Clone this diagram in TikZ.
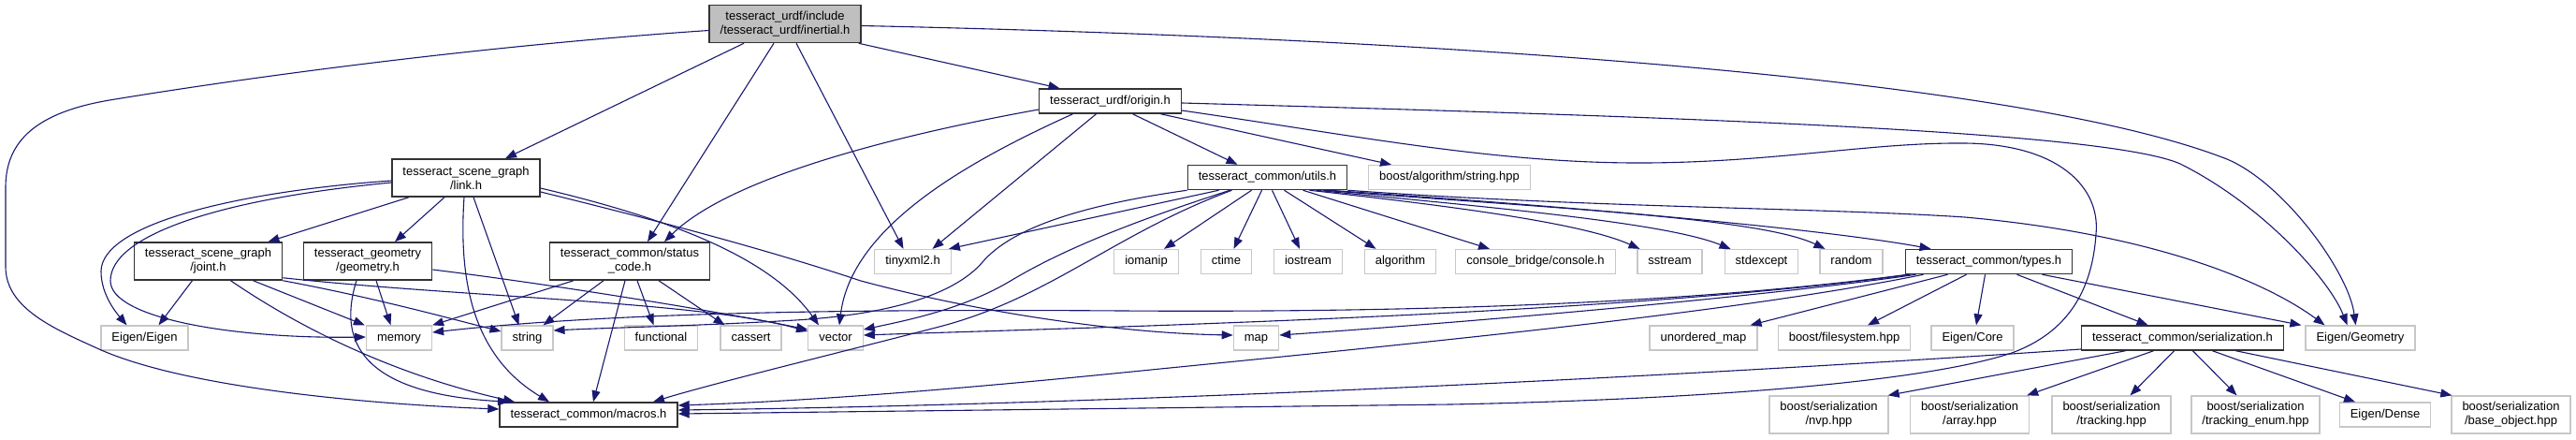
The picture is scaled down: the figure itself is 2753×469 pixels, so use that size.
\documentclass[tikz,border=0pt]{standalone}
\usepackage{fontspec}
\setmainfont{Liberation Sans}
\usetikzlibrary{arrows.meta}
\definecolor{edgeblue}{HTML}{191970}

\begin{document}
\begin{tikzpicture}[x=1pt, y=-1pt,
    basebox/.style={rectangle, inner ysep=0pt, inner xsep=11.5pt, font=\fontsize{13}{15}\selectfont},
    hdrbox/.style={basebox, draw=black!80, line width=1.5pt, fill=white, minimum height=26pt, text height=9.5pt, text depth=3pt},
    hdrtwo/.style={basebox, draw=black!80, line width=1.5pt, fill=white, align=center, minimum height=40pt},
    curbox/.style={hdrtwo, fill=black!25},
    sysbox/.style={basebox, draw=black!22, line width=1.3pt, fill=white, minimum height=26pt, text height=9.5pt, text depth=3pt},
    systwo/.style={basebox, draw=black!22, line width=1.3pt, fill=white, align=center, minimum height=40pt},
    dep/.style={-{Triangle[length=12pt, width=9pt]}, draw=edgeblue, line width=1.1pt}]

    \path[use as bounding box, fill=white] (0,0) rectangle (2753,469);

    % File whose graph this is
    \node[curbox] (inertial) at (839,25.5) {tesseract\_urdf/include\\/tesseract\_urdf/inertial.h};

    % Project headers
    \node[hdrbox] (origin) at (1186.5,108) {tesseract\_urdf/origin.h};
    \node[hdrtwo] (link) at (498,190) {tesseract\_scene\_graph\\/link.h};
    \node[hdrbox] (utils) at (1354.5,189.5) {tesseract\_common/utils.h};
    \node[hdrtwo] (joint) at (222.5,279) {tesseract\_scene\_graph\\/joint.h};
    \node[hdrtwo] (geometry) at (393,279) {tesseract\_geometry\\/geometry.h};
    \node[hdrtwo] (status) at (673,279) {tesseract\_common/status\\\_code.h};
    \node[hdrbox] (types) at (2125.5,279.5) {tesseract\_common/types.h};
    \node[hdrbox] (serialization) at (2332.5,361) {tesseract\_common/serialization.h};
    \node[hdrbox] (macros) at (629,443) {tesseract\_common/macros.h};

    % System and third party headers
    \node[sysbox] (boostalg) at (1549,189.5) {boost/algorithm/string.hpp};
    \node[sysbox] (tinyxml) at (975.5,279.5) {tinyxml2.h};
    \node[sysbox] (iomanip) at (1225,279.5) {iomanip};
    \node[sysbox] (ctime) at (1310.5,279.5) {ctime};
    \node[sysbox] (iostream) at (1398,279.5) {iostream};
    \node[sysbox] (algorithm) at (1496.5,279.5) {algorithm};
    \node[sysbox] (console) at (1641,279.5) {console\_bridge/console.h};
    \node[sysbox] (sstream) at (1784.5,279.5) {sstream};
    \node[sysbox] (stdexcept) at (1882.5,279.5) {stdexcept};
    \node[sysbox] (random) at (1978.5,279.5) {random};

    \node[sysbox] (eigen) at (154.5,361) {Eigen/Eigen};
    \node[sysbox] (memory) at (426.5,361) {memory};
    \node[sysbox] (string) at (563.5,361) {string};
    \node[sysbox] (functional) at (706.5,361) {functional};
    \node[sysbox] (cassert) at (802.5,361) {cassert};
    \node[sysbox] (vector) at (893,361) {vector};
    \node[sysbox] (map) at (1342.5,361) {map};
    \node[sysbox] (umap) at (1820.5,361) {unordered\_map};
    \node[sysbox] (filesystem) at (1971,361) {boost/filesystem.hpp};
    \node[sysbox] (eigencore) at (2108,361) {Eigen/Core};
    \node[sysbox] (eigengeom) at (2522.5,361) {Eigen/Geometry};

    \node[systwo] (nvp) at (1954.5,443) {boost/serialization\\/nvp.hpp};
    \node[systwo] (array) at (2105,443) {boost/serialization\\/array.hpp};
    \node[systwo] (tracking) at (2256.5,443) {boost/serialization\\/tracking.hpp};
    \node[systwo] (trackenum) at (2410.5,443) {boost/serialization\\/tracking\_enum.hpp};
    \node[sysbox] (eigendense) at (2549,443) {Eigen/Dense};
    \node[systwo] (baseobj) at (2683.5,443) {boost/serialization\\/base\_object.hpp};

    % inertial.h includes
    \draw[dep] ([yshift=-7pt]inertial.west) .. controls (500,50) and (250,85) .. (117,107)
        .. controls (40,120) and (6,150) .. (6,200) -- (6,285)
        .. controls (6,330) and (60,352) .. (106,373)
        .. controls (200,415) and (400,432) .. ([yshift=6pt]macros.west);
    \draw[dep] ([xshift=-44pt]inertial.south) -- ([xshift=42pt]link.north);
    \draw[dep] ([xshift=-12pt]inertial.south) -- ([xshift=19pt]status.north);
    \draw[dep] ([xshift=12pt]inertial.south) -- ([xshift=-10pt]tinyxml.north);
    \draw[dep] ([xshift=-3pt]inertial.south east) -- ([xshift=-54pt]origin.north);
    \draw[dep] ([yshift=-2pt]inertial.east) .. controls (1500,40) and (2150,80) .. (2380,170)
        .. controls (2440,195) and (2510,290) .. ([xshift=-5pt]eigengeom.north);

    % origin.h includes
    \draw[dep] ([yshift=-9pt]origin.west) .. controls (1010,135) and (790,180) .. ([xshift=37pt]status.north);
    \draw[dep] ([xshift=-15pt]origin.south) -- ([xshift=21pt]tinyxml.north);
    \draw[dep] ([xshift=-40pt]origin.south) .. controls (1040,170) and (910,240) .. ([xshift=4pt]vector.north);
    \draw[dep] ([xshift=24pt]origin.south) -- ([xshift=-32pt]utils.north);
    \draw[dep] ([xshift=54pt]origin.south) -- ([xshift=-62pt]boostalg.north);
    \draw[dep] ([yshift=-2pt]origin.east) .. controls (1800,125) and (2250,140) .. (2330,175)
        .. controls (2420,220) and (2490,300) .. ([xshift=-14pt]eigengeom.north);
    \draw[dep] ([yshift=-10pt]origin.east) .. controls (1450,145) and (1600,175) .. (1760,174)
        .. controls (1900,173) and (2000,152) .. (2100,153)
        .. controls (2200,154) and (2245,200) .. (2240,250)
        .. controls (2236,310) and (2210,355) .. (2150,377)
        .. controls (2050,410) and (1800,427) .. (1550,432)
        -- ([yshift=1pt]macros.east);

    % link.h includes
    \draw[dep] ([xshift=-61pt]link.south) -- ([xshift=64pt]joint.north);
    \draw[dep] ([xshift=-23pt]link.south) -- ([xshift=29pt]geometry.north);
    \draw[dep] ([yshift=-3pt]link.west) .. controls (250,205) and (108,240) .. (108,290)
        .. controls (108,315) and (125,335) .. ([xshift=-19pt]eigen.north);
    \draw[dep] ([yshift=-5pt]link.west) .. controls (240,212) and (118,250) .. (118,300)
        .. controls (118,340) and (250,362) .. ([yshift=1pt]memory.west);
    \draw[dep] ([xshift=8pt]link.south) -- ([xshift=-9pt]string.north);
    \draw[dep] ([xshift=-2pt]link.south) .. controls (490,300) and (505,380) .. ([xshift=-42pt]macros.north);
    \draw[dep] ([yshift=-11pt]link.east) .. controls (700,230) and (820,270) .. ([xshift=-18pt]vector.north);
    \draw[dep] ([yshift=-15pt]link.east) .. controls (720,240) and (830,270) .. (920,300)
        .. controls (1050,335) and (1200,356) .. ([yshift=3pt]map.west);

    % joint.h includes
    \draw[dep] ([xshift=-17pt]joint.south) -- ([xshift=15pt]eigen.north);
    \draw[dep] ([xshift=48pt]joint.south) -- ([xshift=-1pt]memory.north west);
    \draw[dep] (joint.south east) .. controls (400,318) and (480,340) .. ([yshift=7pt]string.west);
    \draw[dep] ([xshift=24pt]joint.south) .. controls (320,350) and (420,400) .. ([xshift=-79pt]macros.north);
    \draw[dep] ([yshift=3pt]joint.south east) .. controls (500,318) and (750,322) .. ([yshift=7pt]vector.west);

    % geometry.h includes
    \draw[dep] ([xshift=9pt]geometry.south) -- ([xshift=-9pt]memory.north);
    \draw[dep] ([xshift=-12pt]geometry.south) .. controls (362,360) and (380,420) .. ([xshift=-85pt]macros.north);
    \draw[dep] ([yshift=-9pt]geometry.east) .. controls (600,305) and (780,335) .. ([yshift=9pt]vector.west);

    % status_code.h includes
    \draw[dep] ([xshift=-60pt]status.south) -- (memory.north east);
    \draw[dep] ([xshift=-28pt]status.south) -- ([xshift=17pt]string.north);
    \draw[dep] ([xshift=-5pt]status.south) -- ([xshift=5pt]macros.north);
    \draw[dep] ([xshift=8pt]status.south) -- ([xshift=-8pt]functional.north);
    \draw[dep] ([xshift=31pt]status.south) -- ([xshift=-28pt]cassert.north);

    % utils.h includes
    \draw[dep] ([xshift=-52pt]utils.south) -- ([xshift=-3pt]tinyxml.north east);
    \draw[dep] (utils.south west) .. controls (1150,220) and (1080,245) .. (1050,280)
        .. controls (1020,315) and (950,336) .. (850,342)
        .. controls (750,348) and (650,350) .. ([yshift=8pt]string.east);
    \draw[dep] ([xshift=-40pt]utils.south) .. controls (1200,240) and (1130,270) .. (1080,300)
        .. controls (1030,330) and (970,342) .. ([yshift=9pt]vector.east);
    \draw[dep] ([xshift=-38pt]utils.south) .. controls (1190,250) and (1120,320) .. (1000,350)
        .. controls (900,376) and (760,410) .. ([xshift=69pt]macros.north);
    \draw[dep] ([xshift=-17pt]utils.south) -- ([xshift=19pt]iomanip.north);
    \draw[dep] ([xshift=-6pt]utils.south) -- ([xshift=8pt]ctime.north);
    \draw[dep] ([xshift=5pt]utils.south) -- ([xshift=-9pt]iostream.north);
    \draw[dep] ([xshift=18pt]utils.south) -- ([xshift=-26pt]algorithm.north);
    \draw[dep] ([xshift=38pt]utils.south) -- ([xshift=-49pt]console.north);
    \draw[dep] ([xshift=45pt]utils.south) .. controls (1550,220) and (1690,238) .. ([xshift=-32pt]sstream.north);
    \draw[dep] ([xshift=52pt]utils.south) .. controls (1600,222) and (1780,238) .. ([xshift=-33pt]stdexcept.north);
    \draw[dep] ([xshift=60pt]utils.south) .. controls (1650,222) and (1880,232) .. ([xshift=-28pt]random.north);
    \draw[dep] ([xshift=66pt]utils.south) .. controls (1700,222) and (1950,245) .. ([xshift=-62pt]types.north);
    \draw[dep] (utils.south east) .. controls (1700,222) and (1950,222) .. (2100,232)
        .. controls (2300,250) and (2420,300) .. ([xshift=-38pt]eigengeom.north);

    % types.h includes
    \draw[dep] ([xshift=3pt]types.south west) .. controls (1800,325) and (1500,334) .. (1200,332)
        .. controls (900,330) and (650,334) .. ([yshift=6pt]memory.east);
    \draw[dep] ([xshift=6pt]types.south west) .. controls (1800,326) and (1450,340) .. (1200,349)
        .. controls (1050,354) and (980,356) .. ([yshift=3pt]vector.east);
    \draw[dep] ([xshift=12pt]types.south west) .. controls (1900,315) and (1600,342) .. ([yshift=3pt]map.east);
    \draw[dep] ([xshift=20pt]types.south west) .. controls (1850,335) and (1500,368) .. (1200,398)
        .. controls (1000,418) and (850,429) .. ([yshift=10pt]macros.east);
    \draw[dep] ([xshift=-44pt]types.south) -- ([xshift=50pt]umap.north);
    \draw[dep] ([xshift=-24pt]types.south) -- ([xshift=25pt]filesystem.north);
    \draw[dep] ([xshift=-4pt]types.south) -- ([xshift=4pt]eigencore.north);
    \draw[dep] ([xshift=30pt]types.south) -- ([xshift=-37pt]serialization.north);
    \draw[dep] ([xshift=57pt]types.south) -- ([xshift=-4pt]eigengeom.north west);

    % serialization.h includes
    \draw[dep] ([yshift=-12pt]serialization.west) .. controls (1800,402) and (1200,432) .. ([yshift=5pt]macros.east);
    \draw[dep] ([xshift=-61pt]serialization.south) -- ([xshift=-1pt]nvp.north east);
    \draw[dep] ([xshift=-31pt]serialization.south) -- ([xshift=-3pt]array.north east);
    \draw[dep] ([xshift=-9pt]serialization.south) -- ([xshift=20pt]tracking.north);
    \draw[dep] ([xshift=11pt]serialization.south) -- ([xshift=-20pt]trackenum.north);
    \draw[dep] ([xshift=32pt]serialization.south) -- ([xshift=-32pt]eigendense.north);
    \draw[dep] ([xshift=57pt]serialization.south) -- ([xshift=1pt]baseobj.north west);

\end{tikzpicture}
\end{document}
